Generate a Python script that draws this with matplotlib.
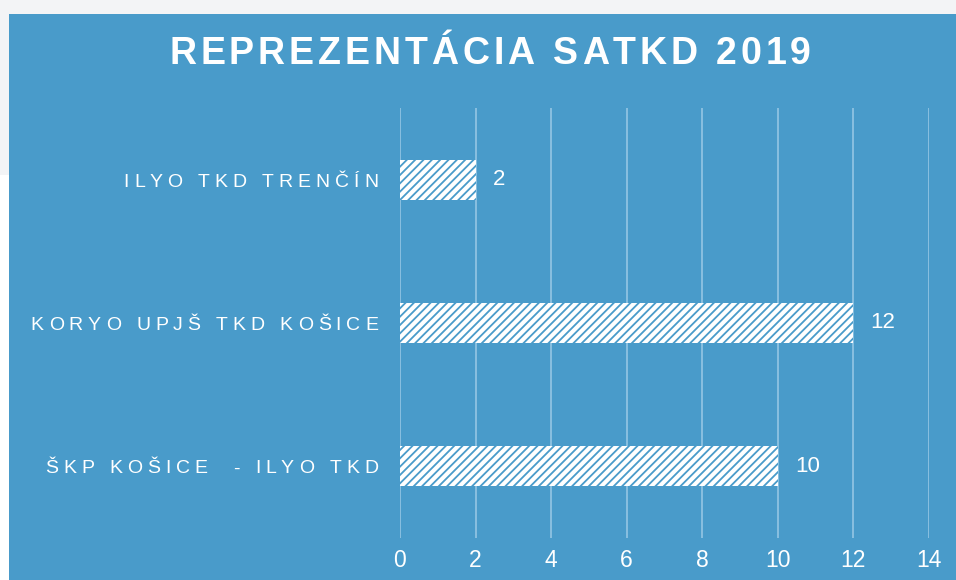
import matplotlib
matplotlib.use("Agg")
import matplotlib.pyplot as plt
from matplotlib.patches import Rectangle
from matplotlib.transforms import IdentityTransform
from matplotlib.font_manager import FontProperties, findfont, get_font

# data
teams = ["ILYO TKD TRENČÍN", "KORYO UPJŠ TKD KOŠICE", "ŠKP KOŠICE  - ILYO TKD"]
counts = [2, 12, 10]
x_ticks = [0, 2, 4, 6, 8, 10, 12, 14]
title = "REPREZENTÁCIA SATKD 2019"

blue = "#499bca"
grid_col = "#8ec2e2"
W, H = 956, 580

plt.rcParams["hatch.linewidth"] = 1.3
plt.rcParams["font.family"] = ["Liberation Sans", "DejaVu Sans"]

fig = plt.figure(figsize=(W / 100, H / 100), dpi=100, facecolor="#f3f4f6")
# white strip bottom-left, blue panel
fig.patches.append(Rectangle((0, 0), 9 / W, (H - 175) / H, transform=fig.transFigure,
                             facecolor="white", edgecolor="none", zorder=-10))
fig.patches.append(Rectangle((9 / W, 0), 1 - 9 / W, (H - 14) / H, transform=fig.transFigure,
                             facecolor=blue, edgecolor="none", zorder=-10))


def spaced_text(x, y_base, s, size, gap, ha="left", weight="normal"):
    """ draw text char by char (pixel coords, baseline y from top) with letter spacing """
    fp = FontProperties(family="Liberation Sans", size=size, weight=weight)
    font = get_font(findfont(fp))
    font.set_size(size, 100)
    advs = [font.load_char(ord(ch)).linearHoriAdvance / 65536.0 for ch in s]
    total = sum(advs) + gap * (len(s) - 1)
    if ha == "right":
        x0 = x - total
    elif ha == "center":
        x0 = x - total / 2
    else:
        x0 = x
    for ch, a in zip(s, advs):
        fig.text(x0, H - y_base, ch, fontproperties=fp, color="white",
                 ha="left", va="baseline", transform=IdentityTransform())
        x0 += a + gap


ax = fig.add_axes([400 / W, (H - 538) / H, 529 / W, 430 / H])
ax.set_facecolor("none")
ypos = list(range(len(teams)))
ax.barh(ypos, counts, height=0.28, color="white", edgecolor=blue,
        linewidth=0, hatch="////", zorder=3)
ax.set_xlim(0, 14)
ax.set_ylim(len(teams) - 0.5, -0.5)
ax.set_xticks(x_ticks)
ax.set_xticklabels([str(t) for t in x_ticks], color="white", fontsize=16.5)
ax.tick_params(axis="x", length=0, pad=8)
ax.set_yticks([])
ax.grid(axis="x", color=grid_col, linewidth=1.3, zorder=1)
for s in ax.spines.values():
    s.set_visible(False)

fig.canvas.draw()
for i, (name, v) in enumerate(zip(teams, counts)):
    _, yp = ax.transData.transform((0, i))
    spaced_text(378, H - yp + 7, name, 14, 4.9, ha="right")
    xb, _ = ax.transData.transform((v, i))
    fig.text(xb + 17, yp, str(v), color="white", fontsize=16, ha="left", va="center",
             transform=IdentityTransform())

spaced_text(490, 64, title, 27, 3.9, ha="center", weight="bold")

fig.savefig("out.png", dpi=100, facecolor=fig.get_facecolor())
